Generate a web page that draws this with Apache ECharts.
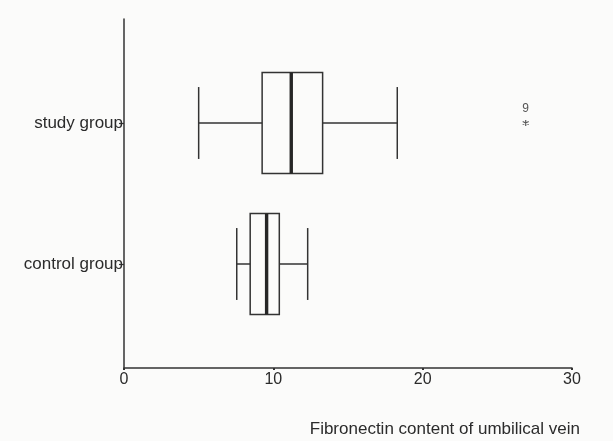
<!DOCTYPE html>
<html>
<head>
<meta charset="utf-8">
<script src="https://cdn.jsdelivr.net/npm/echarts@6/dist/echarts.min.js"></script>
<style>
  html, body { margin: 0; padding: 0; background: #fbfbfa; }
  #chart { width: 613px; height: 441px; }
</style>
</head>
<body>
<div id="chart"></div>
<script>
// groups, bottom to top
const categories = ['control group', 'study group'];
const whiskerLow = [7.55, 5.0];
const q1 = [8.45, 9.25];
const median = [9.55, 11.2];
const q3 = [10.4, 13.3];
const whiskerHigh = [12.3, 18.3];

// extreme values
const outlierValues = [26.9];
const outlierGroup = [1];
const outlierLabels = ['9'];

const xTicks = [0, 10, 20, 30];
const xTitle = 'Fibronectin content of umbilical vein';

const ink = '#333';
const textInk = '#2b2b2b';
const font = 'Liberation Sans, Arial, sans-serif';

const boxData = categories.map((c, i) => [i, whiskerLow[i], q1[i], median[i], q3[i], whiskerHigh[i]]);
const outlierData = outlierValues.map((v, i) => ({ value: [v, outlierGroup[i]], label: outlierLabels[i] }));

function renderBox(params, api) {
  const idx = api.value(0);
  const band = api.size([0, 1])[1];
  const boxH = band * 0.715;
  const capH = band * 0.51;
  const p = k => api.coord([api.value(k), idx]);
  const lo = p(1), a = p(2), m = p(3), b = p(4), hi = p(5);
  const cy = lo[1];
  const lineStyle = { stroke: ink, lineWidth: 1.5, fill: null };
  return {
    type: 'group',
    children: [
      { type: 'line', shape: { x1: lo[0], y1: cy, x2: a[0], y2: cy }, style: lineStyle },
      { type: 'line', shape: { x1: b[0], y1: cy, x2: hi[0], y2: cy }, style: lineStyle },
      { type: 'line', shape: { x1: lo[0], y1: cy - capH / 2, x2: lo[0], y2: cy + capH / 2 }, style: lineStyle },
      { type: 'line', shape: { x1: hi[0], y1: cy - capH / 2, x2: hi[0], y2: cy + capH / 2 }, style: lineStyle },
      { type: 'rect', shape: { x: a[0], y: cy - boxH / 2, width: b[0] - a[0], height: boxH },
        style: { stroke: ink, lineWidth: 1.5, fill: 'rgba(255,255,255,0)' } },
      { type: 'line', shape: { x1: m[0], y1: cy - boxH / 2, x2: m[0], y2: cy + boxH / 2 },
        style: { stroke: '#262626', lineWidth: 3.4 } }
    ]
  };
}

const chart = echarts.init(document.getElementById('chart'));
chart.setOption({
  backgroundColor: '#fbfbfa',
  animation: false,
  title: {
    text: xTitle,
    right: 33,
    top: 421,
    padding: 0,
    textStyle: { color: textInk, fontSize: 17, fontWeight: 'normal', fontFamily: font }
  },
  grid: [
    { left: 124, right: 41, top: 19, bottom: 73, outerBoundsMode: 'none' },
    { left: 124, right: 41, top: 52.5, bottom: 106.5, outerBoundsMode: 'none' }
  ],
  xAxis: [
    {
      gridIndex: 0, type: 'value', min: 0, max: 30, interval: 10,
      axisLine: { lineStyle: { color: ink, width: 1.5 } },
      axisTick: { show: true, length: 2, lineStyle: { color: ink, width: 2 } },
      axisLabel: { color: textInk, fontSize: 16, fontFamily: font, margin: 4,
        formatter: v => xTicks.includes(v) ? String(v) : '' },
      splitLine: { show: false }
    },
    { gridIndex: 1, type: 'value', min: 0, max: 30, show: false }
  ],
  yAxis: [
    {
      gridIndex: 0, type: 'value', min: 0, max: 1,
      axisLine: { show: true, lineStyle: { color: ink, width: 1.5 } },
      axisTick: { show: false }, axisLabel: { show: false }, splitLine: { show: false }
    },
    {
      gridIndex: 1, type: 'category', data: categories,
      axisLine: { show: false },
      axisTick: { show: true, alignWithLabel: true, length: 5, lineStyle: { color: ink, width: 1.2 } },
      axisLabel: { color: textInk, fontSize: 17, fontFamily: font, margin: 1, padding: [4, 0, 0, 0] },
      splitLine: { show: false }
    }
  ],
  series: [
    {
      type: 'custom',
      xAxisIndex: 1, yAxisIndex: 1,
      renderItem: renderBox,
      encode: { x: [1, 2, 3, 4, 5], y: 0 },
      data: boxData
    },
    {
      type: 'scatter',
      xAxisIndex: 1, yAxisIndex: 1,
      symbol: 'path://M0,-5L0,5M-4.3,-2.5L4.3,2.5M-4.3,2.5L4.3,-2.5',
      symbolSize: 6,
      itemStyle: { color: 'none', borderColor: ink, borderWidth: 1.2 },
      label: {
        show: true, position: 'top', distance: 3,
        formatter: p => p.data.label,
        color: textInk, fontSize: 12, fontFamily: font
      },
      data: outlierData
    }
  ]
});
</script>
</body>
</html>
